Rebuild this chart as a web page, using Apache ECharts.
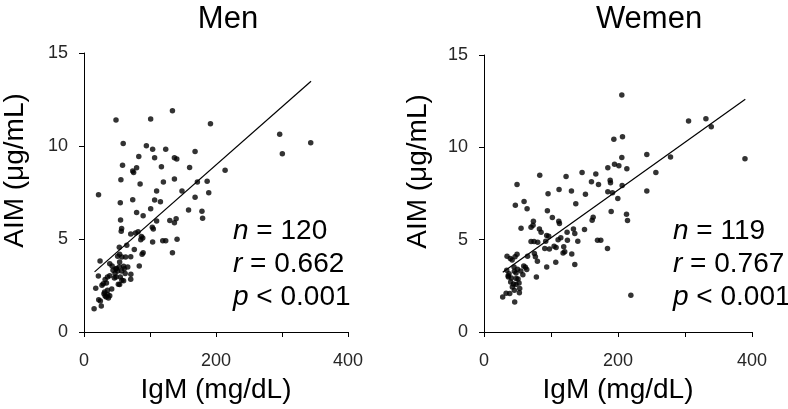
<!DOCTYPE html>
<html>
<head>
<meta charset="UTF-8">
<title>AIM vs IgM</title>
<script src="https://cdn.jsdelivr.net/npm/echarts@6/dist/echarts.min.js"></script>
<style>
  html, body { margin: 0; padding: 0; background: #fff; }
  #main { width: 788px; height: 409px; }
</style>
</head>
<body>
<div id="main"></div>
<script>
// panel titles and stats text
var panelTitles = ['Men', 'Wemen'];
var statN = ['120', '119'];
var statR = ['0.662', '0.767'];
var statP = ['0.001', '0.001'];

// axis ticks
var xTicks = [0, 100, 200, 300, 400];
var yTicks = [0, 5, 10, 15];

// men: IgM (mg/dL) and AIM (ug/mL)
var menIgM = [22,48.5,101,134,191.6,296.5,300.5,343.5,59.4,94.5,104,123.8,168.3,107,83,137,140.6,58.4,79.7,117.3,160,73.8,75.2,213.8,55.9,137,120.3,171.8,186.6,85,148.5,110,189,168.3,73.8,107,115.8,55,101,158.4,79.7,178.7,89.6,179.7,55.4,110,130,139.6,137,57,56.4,103.5,105,78,82,70.8,87,89,86,104,119.3,123.8,141,64.8,53.5,76.2,89.6,88,134,24.3,54,57.4,63,70.8,39,42.6,83.7,53.5,66.3,48.5,61,51,57,62.4,71,21.8,39,35.6,46,55,70.8,60,29.2,34,27.2,54,17.8,42,35.6,31.2,36,32,39,37,24.8,26.2,15.3,30.2,51,54,60,49,44,32,57.4,48.5,52,47,22.3,33.7];
var menAIM = [7.38,11.4,11.45,11.9,11.2,10.63,9.59,10.18,10.14,10.02,9.82,9.82,9.71,9.37,9.43,9.37,9.3,8.96,8.83,8.89,8.85,8.66,8.57,8.69,8.19,8.22,8.06,8.06,8.1,7.96,7.58,7.58,7.49,7.24,7.11,7.1,7.0,6.95,6.63,6.56,6.42,6.49,6.25,6.11,6.02,5.97,6.0,6.09,5.88,5.56,5.41,5.63,5.54,5.32,5.39,5.27,5.14,5.05,4.96,4.84,4.91,4.91,4.98,4.66,4.55,4.43,4.26,4.18,4.26,3.82,4.18,4.03,4.03,4.05,3.67,3.55,3.55,3.51,3.49,3.39,3.4,3.28,3.28,3.14,3.1,3.01,3.03,2.96,2.9,2.96,2.83,2.76,2.6,2.63,2.51,2.56,2.35,2.31,2.24,2.15,2.02,1.94,1.95,1.83,1.67,1.4,1.25,2.06,4.07,3.77,3.53,3.41,3.32,2.82,2.78,2.96,2.57,3.14,1.74,1.88];
var menFitX = [16, 344];
var menFitY = [3.23, 13.48];

// women
var womenIgM = [205.7,193.8,206.7,305.3,331.2,339.2,389.5,243,278.4,205.7,194.8,201.3,213.2,184.8,256.5,146.4,83.2,122.5,166.9,160.4,170.9,188.3,188.8,206.2,49.3,112,130.5,243,184.8,191.8,95.6,151.4,199.7,59.8,46.8,137,64.3,94.6,189.8,212.7,102,162.9,161.4,214.2,73.7,111.6,112.6,73.2,70.2,55.3,82.7,150,133.5,124,85.2,135.5,93.6,96.6,114.6,110.6,124.5,140,169.4,174.3,70.2,74.7,80.2,92.1,104.6,107.6,119,90.7,97.6,184.3,75.2,118,120.5,131,76.7,49.3,46.3,34.4,39.3,79.7,107.1,59.3,61.8,63.8,93.6,135.5,44.8,33.9,37.4,45.3,47.8,78.2,36.4,40.8,50.8,39.8,52.3,47.8,42.3,53.3,52.8,45.3,219.2,27.9,38.4,45.8,42,36,50,44,55,48,33,58,65];
var womenAIM = [12.83,10.44,10.57,11.42,11.55,11.11,9.38,9.61,9.47,9.45,9.09,9.0,8.84,8.89,8.64,8.64,8.49,8.42,8.55,8.13,7.99,8.22,8.08,7.93,7.99,7.72,7.64,7.64,7.59,7.54,7.48,7.46,7.23,7.07,6.87,6.94,6.67,6.56,6.52,6.38,6.2,6.22,6.05,6.04,6.0,6.0,5.87,5.78,5.67,5.62,5.58,5.55,5.58,5.4,5.4,5.33,5.22,5.19,5.11,4.99,4.97,4.92,4.97,4.97,4.9,4.9,4.86,4.92,4.64,4.57,4.61,4.52,4.5,4.52,4.25,4.28,4.35,4.23,4.07,4.21,4.07,4.1,3.98,3.83,3.78,3.58,3.5,3.38,3.52,3.65,3.52,3.34,3.16,3.29,3.2,2.98,2.98,2.93,2.87,2.71,2.66,2.57,2.44,2.35,2.13,2.26,1.99,1.9,2.08,1.63,3.9,3.05,3.4,2.6,3.3,2.9,2.1,3.1,4.1];
var womenFitX = [28, 390];
var womenFitY = [3.23, 12.6];

function zip(a, b) {
  var out = [];
  for (var i = 0; i < Math.min(a.length, b.length); i++) out.push([a[i], b[i]]);
  return out;
}

var font = 'Liberation Sans, Arial, sans-serif';
var black = '#000';

function xAxisFor(idx) {
  return {
    gridIndex: idx, type: 'value', min: xTicks[0], max: xTicks[xTicks.length - 1], interval: 100,
    name: 'IgM (mg/dL)', nameLocation: 'middle', nameGap: 44,
    nameTextStyle: { fontFamily: font, fontSize: 28, color: black },
    axisLine: { lineStyle: { color: black, width: 1 } },
    axisTick: { show: true, length: 5, lineStyle: { color: black } },
    axisLabel: { margin: 20, fontFamily: font, fontSize: 18, color: '#262626',
      formatter: function (v) { return v % 200 === 0 ? v : ''; } },
    splitLine: { show: false }
  };
}
function yAxisFor(idx, gap) {
  return {
    gridIndex: idx, type: 'value', min: yTicks[0], max: yTicks[yTicks.length - 1], interval: 5,
    name: 'AIM (\u03bcg/mL)', nameLocation: 'middle', nameGap: gap, nameRotate: 90,
    nameTextStyle: { fontFamily: font, fontSize: 28, color: black, padding: [0, 0, 0, 44] },
    axisLine: { show: true, lineStyle: { color: black, width: 1 } },
    axisTick: { show: true, length: 5, lineStyle: { color: black } },
    axisLabel: { margin: 16, fontFamily: font, fontSize: 18, color: '#262626' },
    splitLine: { show: false }
  };
}

function statText(x, y, label, op, val) {
  return {
    type: 'text', left: x, top: y,
    style: {
      text: '{i|' + label + '} ' + op + ' ' + val,
      font: '28px ' + font, fill: black,
      rich: { i: { fontStyle: 'italic', fontFamily: font, fontSize: 28, fill: black } }
    }
  };
}

var chart = echarts.init(document.getElementById('main'));
chart.setOption({
  animation: false,
  backgroundColor: '#fff',
  title: [
    { text: panelTitles[0], left: 223, top: -1, textAlign: 'center',
      textStyle: { fontFamily: font, fontSize: 31, fontWeight: 'normal', color: black } },
    { text: panelTitles[1], left: 644, top: -1, textAlign: 'center',
      textStyle: { fontFamily: font, fontSize: 31, fontWeight: 'normal', color: black } }
  ],
  grid: [
    { left: 79, top: 53, width: 269, height: 279 },
    { left: 484, top: 55, width: 268, height: 277 }
  ],
  xAxis: [xAxisFor(0), xAxisFor(1)],
  yAxis: [yAxisFor(0, 55), yAxisFor(1, 52)],
  series: [
    { type: 'scatter', xAxisIndex: 0, yAxisIndex: 0, symbolSize: 5.5,
      itemStyle: { color: black }, data: zip(menIgM, menAIM) },
    { type: 'line', xAxisIndex: 0, yAxisIndex: 0, showSymbol: false, symbol: 'none',
      lineStyle: { color: black, width: 1.2 }, data: zip(menFitX, menFitY) },
    { type: 'scatter', xAxisIndex: 1, yAxisIndex: 1, symbolSize: 5.5,
      itemStyle: { color: black }, data: zip(womenIgM, womenAIM) },
    { type: 'line', xAxisIndex: 1, yAxisIndex: 1, showSymbol: false, symbol: 'none',
      lineStyle: { color: black, width: 1.2 }, data: zip(womenFitX, womenFitY) }
  ],
  graphic: [
    statText(233, 217, 'n', '=', statN[0]),
    statText(233, 250, 'r', '=', statR[0]),
    statText(233, 283, 'p', '<', statP[0]),
    statText(673, 217, 'n', '=', statN[1]),
    statText(673, 250, 'r', '=', statR[1]),
    statText(673, 283, 'p', '<', statP[1])
  ]
});
</script>
</body>
</html>
